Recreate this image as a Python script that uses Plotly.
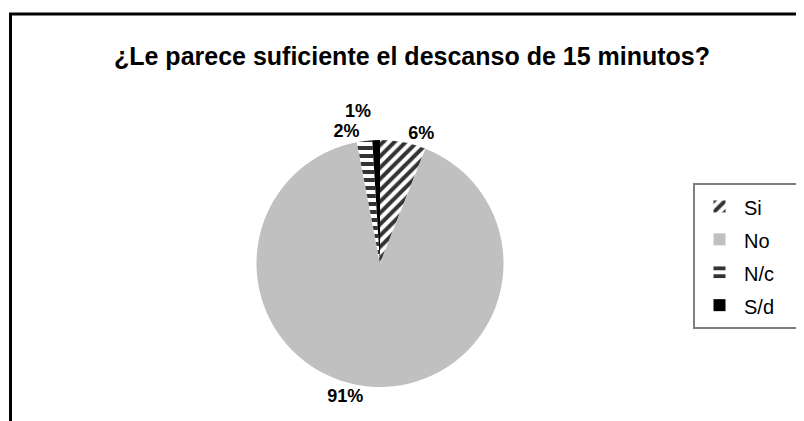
import plotly.graph_objects as go

# ---- data ----
labels = ["Si", "No", "N/c", "S/d"]
values = [6, 91, 2, 1]
title_text = "¿Le parece suficiente el descanso de 15 minutos?"

# ---- styles ----
fill_colors = ["#ffffff", "#c0c0c0", "#ffffff", "#000000"]
pattern_shapes = ["/", "", "-", ""]
pattern_fg = ["#333333", "#c0c0c0", "#333333", "#000000"]

W, H = 804, 421
OFF = 8  # page body margin in the browser
FONT = "Liberation Sans, Arial, sans-serif"


def px_x(x):
    return (x - OFF) / W


def px_y(y):
    return 1 - (y - OFF) / H


pad = "\u00a0" * 4
legend_labels = [f"<span style='font-size:20px'>{l}{pad}</span>" for l in labels]

fig = go.Figure(
    go.Pie(
        labels=legend_labels,
        values=values,
        sort=False,
        direction="clockwise",
        rotation=0,
        marker=dict(
            colors=fill_colors,
            line=dict(width=0),
            pattern=dict(
                shape=pattern_shapes,
                fgcolor=pattern_fg,
                bgcolor=fill_colors,
                size=8,
                solidity=0.5,
            ),
        ),
        textinfo="percent",
        texttemplate="%{percent:.0%}",
        textposition="outside",
        outsidetextfont=dict(family=FONT, size=18, color="#000000", weight="bold"),
        hoverinfo="percent",
        domain=dict(x=[px_x(256.5), px_x(503.5)], y=[px_y(387), px_y(140)]),
        showlegend=True,
    )
)

fig.update_layout(
    width=W,
    height=H,
    margin=dict(l=0, r=0, t=0, b=0),
    paper_bgcolor="#ffffff",
    plot_bgcolor="#ffffff",
    font=dict(family=FONT, color="#000000"),
    title=dict(
        text=title_text,
        x=px_x(412),
        xanchor="center",
        y=px_y(56),
        yanchor="middle",
        font=dict(family=FONT, size=25, color="#000000", weight="bold"),
    ),
    legend=dict(
        x=px_x(693),
        xanchor="left",
        y=px_y(183),
        yanchor="top",
        bgcolor="#ffffff",
        bordercolor="#808080",
        borderwidth=2,
        itemwidth=39,
        font=dict(family=FONT, size=23, color="#000000"),
        traceorder="normal",
    ),
    shapes=[
        dict(
            type="rect",
            xref="paper",
            yref="paper",
            x0=px_x(10.5),
            x1=1.05,
            y0=-0.05,
            y1=px_y(14),
            line=dict(color="#000000", width=3),
            fillcolor="rgba(0,0,0,0)",
            layer="below",
        )
    ],
)

fig.write_html(
    "out.html",
    post_script="document.querySelectorAll('path.textline').forEach(function(e){e.style.display='none';});",
)
